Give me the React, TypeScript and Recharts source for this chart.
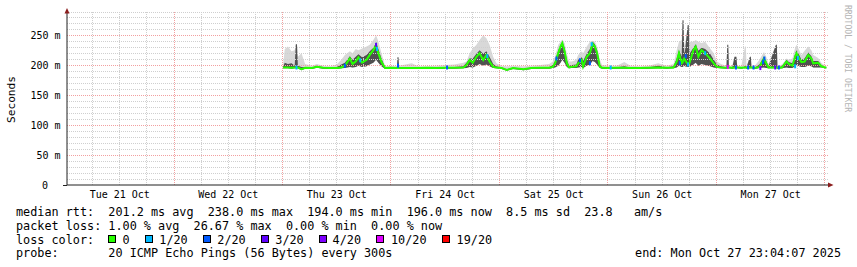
import {
  Area,
  ComposedChart,
  Line,
  ReferenceLine,
  Scatter,
  XAxis,
  YAxis,
} from "recharts";

// hours since Tue 21 Oct 00:00
const hours = [
  48.1, 48.5, 49.2, 50.0, 50.7, 50.95, 51.2, 51.4, 52.2, 53.0, 54.5, 55.6, 57.0, 58.5, 60.0,
  61.0, 61.8, 62.9, 63.5, 64.2, 64.8, 65.6, 66.6, 67.3, 68.1, 68.7, 69.2, 69.9, 70.7, 72.0,
  73.3, 73.45, 73.65, 73.8, 76.6, 78.0, 80.0, 82.0, 84.0, 86.0, 88.0, 88.7, 89.4, 90.1, 90.9,
  91.6, 92.4, 93.1, 93.8, 94.6, 95.3, 96.5, 97.6, 99.0, 101.3, 103.0, 105.0, 107.0, 107.8, 108.3,
  109.0, 109.5, 109.9, 110.4, 110.9, 111.4, 112.0, 113.0, 113.4, 114.2, 114.5, 115.3, 116.0, 116.6, 117.1,
  117.6, 118.2, 118.7, 120.0, 122.0, 123.6, 125.0, 127.0, 129.0, 131.1, 133.0, 134.5, 135.2, 135.7, 136.3,
  136.5, 136.7, 136.85, 137.0, 137.65, 137.85, 138.05, 138.9, 139.4, 140.0, 140.7, 141.5, 142.6, 143.4, 144.1,
  145.0, 146.2, 146.4, 146.6, 146.75, 147.5, 148.0, 148.4, 148.6, 149.5, 150.3, 150.5, 150.65, 151.4, 151.6,
  151.75, 152.5, 153.5, 154.5, 155.0, 155.5, 157.15, 157.35, 157.5, 158.5, 159.5, 160.0, 160.8, 161.4, 161.7,
  162.3, 162.8, 163.5, 164.3, 165.0, 165.4, 166.5, 167.2, 168.0, 168.3,
];

// median rtt (ms)
const median = [
  197, 197, 197, 196.5, 197, 197, 197, 197, 194, 196.5, 196, 198, 196.5, 196, 196,
  197, 200, 212, 203, 207, 214, 205, 210, 218, 226, 235, 221, 206, 196, 196.5,
  196, 197, 197, 196, 196, 196, 196.5, 196, 196.5, 196.5, 197, 201, 209.6, 205, 215,
  221, 209.6, 218, 207, 198, 197, 196, 193, 196, 194, 196, 196.5, 196.5, 198, 204,
  221, 232, 238, 224, 204, 197, 198, 199, 204, 209.6, 198.4, 215, 221, 237, 232,
  221, 198.4, 196.5, 196, 196.5, 196.5, 196, 196, 196.5, 197, 196.5, 197, 206.8, 221, 204,
  205, 210, 212, 209.6, 203, 203, 205, 226, 232, 215, 226, 221, 212, 204, 198,
  197, 196.5, 197, 197, 197, 196.5, 197, 197, 197, 196.5, 197, 197, 196.5, 197, 197,
  197, 196, 198, 212, 204, 197, 197, 197, 196.5, 197, 207, 203, 200, 215, 221,
  212, 206, 207, 218, 212, 204, 205, 199, 197, 197,
];

// lowest ping of the smoke
const smokeLo = [
  195.5, 195.5, 195.5, 195, 195.5, 195.5, 195.5, 195.5, 192.5, 195, 194.5, 196.5, 195, 194.5, 194.5,
  195.5, 196, 198, 197, 198, 200, 198, 199, 202, 205, 210, 205, 199, 194.5, 195,
  194.5, 195.5, 195.5, 194.5, 194.5, 194.5, 195, 194.5, 195, 195, 195.5, 196, 198, 197, 200,
  203, 200, 202, 199, 196, 195.5, 194.5, 191.5, 194.5, 192.5, 194.5, 195, 195, 196, 197,
  200, 205, 210, 205, 198, 195.5, 196, 196, 197, 198, 196, 200, 202, 208, 206,
  202, 196, 195, 194.5, 195, 195, 194.5, 194.5, 195, 195.5, 195, 195.5, 197, 200, 198,
  198, 199, 200, 199, 198, 198, 198, 202, 205, 200, 203, 201, 199, 197, 196,
  195.5, 195, 195.5, 195.5, 195.5, 195, 195.5, 195.5, 195.5, 195, 195.5, 195.5, 195, 195.5, 195.5,
  195.5, 194.5, 196, 197, 196, 195.5, 195.5, 195.5, 195, 195.5, 197, 196, 196, 199, 201,
  199, 198, 198, 200, 199, 197, 197, 197, 195.5, 195.5,
];

// upper edge of the dark core of the smoke
const smokeCore = [
  198, 205, 203, 204, 200, 236, 236, 200, 198, 197.5, 197, 200, 197.5, 197, 198,
  202, 205, 216, 210, 215, 219, 214, 218, 224, 230, 238, 228, 212, 197, 197.5,
  197, 214, 214, 197, 198, 197, 197.5, 197, 197.5, 198, 199, 205, 212, 212, 220,
  226, 220, 224, 215, 203, 199, 197, 194, 197, 195, 197, 197.5, 198, 201, 208,
  226, 235, 240, 230, 210, 200, 201, 202, 210, 214, 208, 220, 228, 240, 236,
  226, 202, 197.5, 197, 197.5, 199, 197, 197, 197.5, 200, 197.5, 199, 212, 226, 215,
  276, 276, 222, 222, 268, 268, 220, 230, 236, 225, 230, 228, 220, 210, 202,
  199, 197.5, 235, 235, 198, 197.5, 215, 215, 198, 197.5, 199, 199, 197.5, 215, 215,
  198, 197, 202, 215, 208, 199, 235, 235, 197.5, 199, 210, 206, 204, 220, 226,
  218, 210, 212, 222, 216, 208, 208, 201, 198, 198,
];

// highest ping of the smoke
const smokeHi = [
  200, 228, 232, 224, 226, 236, 236, 215, 221, 203, 200, 203, 200, 199, 202,
  210, 218, 224, 221, 228, 226, 229, 232, 235, 243, 251, 241, 221, 199, 200,
  199, 214, 214, 200, 204, 199, 199, 200, 201, 202, 205, 207, 221, 229, 235,
  243, 251, 246, 235, 215, 204, 200, 199, 200, 199, 200, 201, 203, 207, 216,
  235, 240, 244, 238, 220, 207, 207, 210, 218, 224, 221, 232, 240, 242, 240,
  232, 210, 201, 200, 200, 206, 200, 199, 200, 204, 200, 203, 226, 240, 243,
  276, 276, 240, 232, 268, 268, 240, 240, 243, 240, 238, 240, 229, 221, 207,
  203, 200, 235, 235, 200, 200, 215, 215, 200, 200, 232, 232, 200, 215, 215,
  200, 200, 210, 223, 215, 203, 235, 235, 200, 202, 212, 210, 212, 230, 235,
  226, 218, 225, 232, 226, 218, 213, 205, 200, 199,
];

// samples drawn in a loss colour
const lossHours = [
  51.1, 61.8, 65.2, 68.7, 68.9, 73.55, 84.4, 93.3, 108.6, 113.8, 116.0, 116.4, 120.6, 135.9,
  137.2, 137.7, 141.5, 146.5, 148.3, 151.0, 152.2, 153.7, 154.3, 154.6, 157.0, 157.8, 161.4, 162.0,
];
const lossValues = [
  197, 200, 209, 235, 228, 200, 197, 216, 212, 209, 204, 236, 197, 204,
  216, 202, 221, 198, 197, 197, 197, 196, 206, 212, 197, 197, 199, 213,
];
const lossLevels = [
  1, 2, 1, 3, 1, 2, 2, 1, 2, 2, 2, 1, 1, 2,
  2, 1, 1, 10, 2, 2, 2, 4, 2, 2, 3, 2, 1, 1,
];

const lossNames = ["0", "1/20", "2/20", "3/20", "4/20", "10/20", "19/20"];
const lossSteps = [0, 1, 2, 3, 4, 10, 19];
const lossColors = ["#26ff00", "#00b8ff", "#0059ff", "#5e00ff", "#7e00ff", "#dd00ff", "#ff0000"];

const dayTicks = [12, 36, 60, 84, 108, 132, 156];
const dayLabels = ["Tue 21 Oct", "Wed 22 Oct", "Thu 23 Oct", "Fri 24 Oct", "Sat 25 Oct", "Sun 26 Oct", "Mon 27 Oct"];
const valueTicks = [0, 50, 100, 150, 200, 250];

const minorY = [10, 20, 30, 40, 60, 70, 80, 90, 110, 120, 130, 140, 160, 170, 180, 190, 210, 220, 230, 240, 260, 270, 280, 290];
const majorY = [50, 100, 150, 200, 250];
const minorX = [6, 12, 18, 30, 36, 42, 54, 60, 66, 78, 84, 90, 102, 108, 114, 126, 132, 138, 150, 156, 162];
const majorX = [24, 48, 72, 96, 120, 144, 168];

const legendLines = [
  "median rtt:  201.2 ms avg  238.0 ms max  194.0 ms min  196.0 ms now  8.5 ms sd  23.8   am/s",
  "packet loss: 1.00 % avg  26.67 % max  0.00 % min  0.00 % now",
];
const probeLine = "probe:       20 ICMP Echo Pings (56 Bytes) every 300s";
const endLine = "end: Mon Oct 27 23:04:07 2025";

const FONT = "DejaVu Sans Mono";
const keep = (s: string) => s.replace(/ /g, "\u00a0");

const data = hours.map((h, i) => ({
  h,
  med: median[i],
  band: [smokeLo[i], smokeHi[i]],
  core: [smokeLo[i], smokeCore[i]],
}));

function YTick({ y, payload }: any) {
  const v = payload.value;
  return (
    <text
      x={v === 0 ? 48 : 60.5}
      y={y + 3.6}
      textAnchor="end"
      fontFamily={FONT}
      fontSize={10}
      fill="#000"
    >
      {v === 0 ? "0" : keep(`${v} m`)}
    </text>
  );
}

function XTick({ x, payload }: any) {
  const idx = dayTicks.indexOf(payload.value);
  return (
    <text x={x} y={198.3} textAnchor="middle" fontFamily={FONT} fontSize={10} fill="#000">
      {keep(dayLabels[idx] ?? "")}
    </text>
  );
}

const legendSquareX = [108.5, 145.5, 203.5, 261.5, 319.5, 376.5, 442.5];
const legendTextX = [122.6, 159.3, 217.3, 275.3, 332.6, 391, 456.6];

export default function App() {
  const lossSets = lossSteps.map((step) =>
    lossHours
      .map((h, i) => ({ h, v: lossValues[i], lvl: lossLevels[i] }))
      .filter((p) => p.lvl === step)
  );

  return (
    <div
      style={{
        position: "absolute",
        left: 0,
        top: 0,
        width: 857,
        height: 267,
        background: "#fff",
      }}
    >
      <ComposedChart
        width={857}
        height={267}
        data={data}
        margin={{ top: 12, right: 29, bottom: 52, left: 10 }}
      >
        {minorY.map((v) => (
          <ReferenceLine key={`my${v}`} y={v} stroke="#cfcfcf" strokeDasharray="1 1" shapeRendering="crispEdges" />
        ))}
        {minorX.map((v) => (
          <ReferenceLine key={`mx${v}`} x={v} stroke="#cfcfcf" strokeDasharray="1 1" shapeRendering="crispEdges" />
        ))}
        {majorY.map((v) => (
          <ReferenceLine key={`My${v}`} y={v} stroke="#f2a0a0" strokeDasharray="1 1" shapeRendering="crispEdges" />
        ))}
        {majorX.map((v) => (
          <ReferenceLine key={`Mx${v}`} x={v} stroke="#f2a0a0" strokeDasharray="1 1" shapeRendering="crispEdges" />
        ))}
        <XAxis
          dataKey="h"
          type="number"
          domain={[0.33, 168.67]}
          ticks={dayTicks}
          tick={<XTick />}
          tickLine={false}
          axisLine={{ stroke: "#202020" }}
          height={30}
          allowDataOverflow
        />
        <YAxis
          type="number"
          domain={[0, 290]}
          ticks={valueTicks}
          tick={<YTick />}
          tickLine={false}
          axisLine={{ stroke: "#202020" }}
          width={57}
          allowDataOverflow
        />
        <Area
          type="linear"
          dataKey="band"
          stroke="none"
          fill="#d8d8d8"
          fillOpacity={1}
          isAnimationActive={false}
        />
        <Area
          type="linear"
          dataKey="core"
          stroke="none"
          fill="#505050"
          fillOpacity={1}
          isAnimationActive={false}
        />
        <Line
          type="linear"
          dataKey="med"
          stroke={lossColors[0]}
          strokeWidth={2}
          dot={false}
          isAnimationActive={false}
        />
        {lossSets.map((set, k) =>
          k === 0 ? null : (
            <Scatter
              key={`loss${k}`}
              data={set}
              dataKey="v"
              isAnimationActive={false}
              shape={(p: any) => (
                <rect x={p.cx - 1} y={p.cy - 2} width={2} height={4} fill={lossColors[k]} />
              )}
            />
          )
        )}
      </ComposedChart>

      <svg
        width={857}
        height={267}
        style={{ position: "absolute", left: 0, top: 0, pointerEvents: "none" }}
      >
        <polygon points="64.5,13.5 69.5,13.5 67,8" fill="#8b1e1e" />
        <polygon points="828,182.5 828,187.5 833.5,185" fill="#8b1e1e" />
        <line x1={63} y1={185.5} x2={67} y2={185.5} stroke="#202020" />
        <text
          transform="translate(15.2,99.5) rotate(-90)"
          textAnchor="middle"
          fontFamily={FONT}
          fontSize={11.2}
          fill="#000"
        >
          Seconds
        </text>
        <text
          transform="translate(845,5) rotate(90)"
          fontFamily={FONT}
          fontSize={8.1}
          fill="#b4b4b4"
        >
          {keep("RRDTOOL / TOBI OETIKER")}
        </text>
        <g fontFamily={FONT} fontSize={11.8} fill="#000">
          <text x={16} y={215.7}>
            {keep(legendLines[0])}
          </text>
          <text x={16} y={229.6}>
            {keep(legendLines[1])}
          </text>
          <text x={16} y={243.5}>
            {keep("loss color:")}
          </text>
          {lossNames.map((name, i) => (
            <g key={name}>
              <rect
                x={legendSquareX[i]}
                y={235.5}
                width={7}
                height={7}
                fill={lossColors[i]}
                stroke="#000"
                strokeWidth={1}
              />
              <text x={legendTextX[i]} y={243.5}>
                {name}
              </text>
            </g>
          ))}
          <text x={16} y={257.4}>
            {keep(probeLine)}
          </text>
          <text x={841} y={257.4} textAnchor="end">
            {keep(endLine)}
          </text>
        </g>
      </svg>
    </div>
  );
}
